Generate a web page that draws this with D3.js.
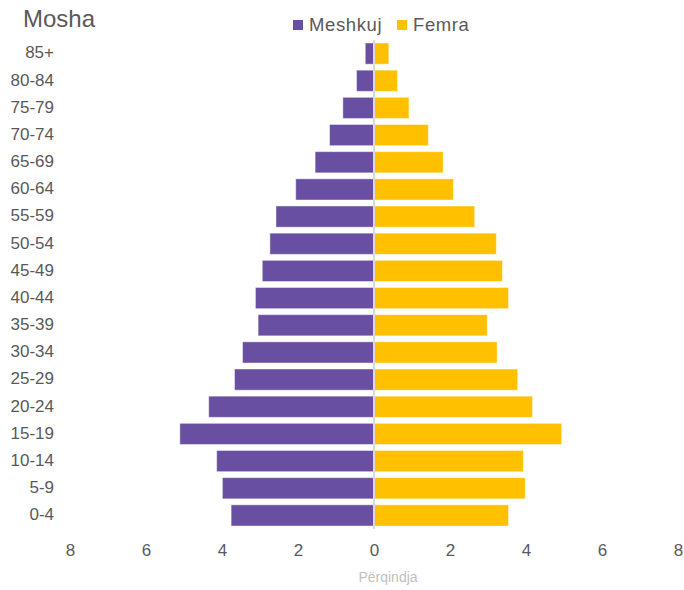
<!DOCTYPE html>
<html>
<head>
<meta charset="utf-8">
<script src="https://cdn.jsdelivr.net/npm/d3@7"></script>
<style>
  body { margin: 0; background: #fff; }
  svg text { font-family: "Liberation Sans", Arial, sans-serif; }
</style>
</head>
<body>
<div id="container"></div>
<script>

// age groups, top to bottom
var ageGroups = ["85+", "80-84", "75-79", "70-74", "65-69", "60-64", "55-59", "50-54", "45-49",
    "40-44", "35-39", "30-34", "25-29", "20-24", "15-19", "10-14", "5-9", "0-4"];

// percentages
var maleValues = [0.23, 0.46, 0.82, 1.17, 1.55, 2.06, 2.58, 2.74, 2.94,
    3.12, 3.05, 3.46, 3.67, 4.35, 5.11, 4.14, 3.99, 3.76];
var femaleValues = [0.39, 0.62, 0.92, 1.43, 1.82, 2.09, 2.65, 3.22, 3.38,
    3.54, 2.98, 3.24, 3.78, 4.17, 4.94, 3.93, 3.98, 3.54];

var xTicks = [-8, -6, -4, -2, 0, 2, 4, 6, 8];

var seriesNames = ["Meshkuj", "Femra"];
var colors = { "Meshkuj": "#684fa1", "Femra": "#ffc000" };
var textColor = "#595959";

var width = 684, height = 590;

var svg = d3.select("#container").append("svg")
    .attr("width", width)
    .attr("height", height);

var x = d3.scaleLinear().domain([-8, 8]).range([70, 678]);
var y = d3.scaleBand().domain(ageGroups).range([40, 529])
    .paddingInner(0.22).paddingOuter(0.11);

// bars
var rows = ageGroups.map(function (g, i) {
    return { group: g, male: maleValues[i], female: femaleValues[i] };
});

svg.append("g").selectAll("rect")
    .data(rows)
    .join("rect")
    .attr("x", function (d) { return x(-d.male); })
    .attr("y", function (d) { return y(d.group); })
    .attr("width", function (d) { return x(0) - x(-d.male); })
    .attr("height", y.bandwidth())
    .attr("fill", colors["Meshkuj"])
    .attr("stroke", "rgba(255,255,255,0.45)")
    .attr("stroke-width", 1);

svg.append("g").selectAll("rect")
    .data(rows)
    .join("rect")
    .attr("x", x(0))
    .attr("y", function (d) { return y(d.group); })
    .attr("width", function (d) { return x(d.female) - x(0); })
    .attr("height", y.bandwidth())
    .attr("fill", colors["Femra"])
    .attr("stroke", "rgba(255,255,255,0.45)")
    .attr("stroke-width", 1);

// zero line
svg.append("line")
    .attr("x1", x(0)).attr("x2", x(0))
    .attr("y1", 40).attr("y2", 529)
    .attr("stroke", "#d9d9d9")
    .attr("stroke-width", 2);

// y labels
var yAxis = svg.append("g")
    .attr("transform", "translate(54,0)")
    .call(d3.axisLeft(y).tickSize(0).tickPadding(0));
yAxis.select(".domain").remove();
yAxis.selectAll("text")
    .attr("fill", textColor)
    .style("font-size", "17px")
    .attr("dy", "0.28em");

// x axis
var xAxis = svg.append("g")
    .attr("transform", "translate(0,537)")
    .call(d3.axisBottom(x).tickValues(xTicks).tickSize(0).tickPadding(0)
        .tickFormat(function (d) { return Math.abs(d); }));
xAxis.select(".domain").remove();
xAxis.selectAll("text")
    .attr("fill", textColor)
    .style("font-size", "17px")
    .attr("dy", "1.1em");

svg.append("text")
    .attr("x", 388)
    .attr("y", 582)
    .attr("text-anchor", "middle")
    .attr("fill", "#bfbfbf")
    .style("font-size", "14px")
    .text("Përqindja");

// title
svg.append("text")
    .attr("x", 23)
    .attr("y", 27)
    .attr("fill", textColor)
    .style("font-size", "24px")
    .text("Mosha");

// legend
var legendX = [293, 397];
var legend = svg.append("g").selectAll("g")
    .data(seriesNames)
    .join("g")
    .attr("transform", function (d, i) { return "translate(" + legendX[i] + ",20)"; });

legend.append("rect")
    .attr("width", 10)
    .attr("height", 10)
    .attr("fill", function (d) { return colors[d]; });

legend.append("text")
    .attr("x", 16)
    .attr("y", 10.5)
    .attr("fill", textColor)
    .style("font-size", "18.5px")
    .style("letter-spacing", "0.6px")
    .text(function (d) { return d; });

</script>
</body>
</html>
